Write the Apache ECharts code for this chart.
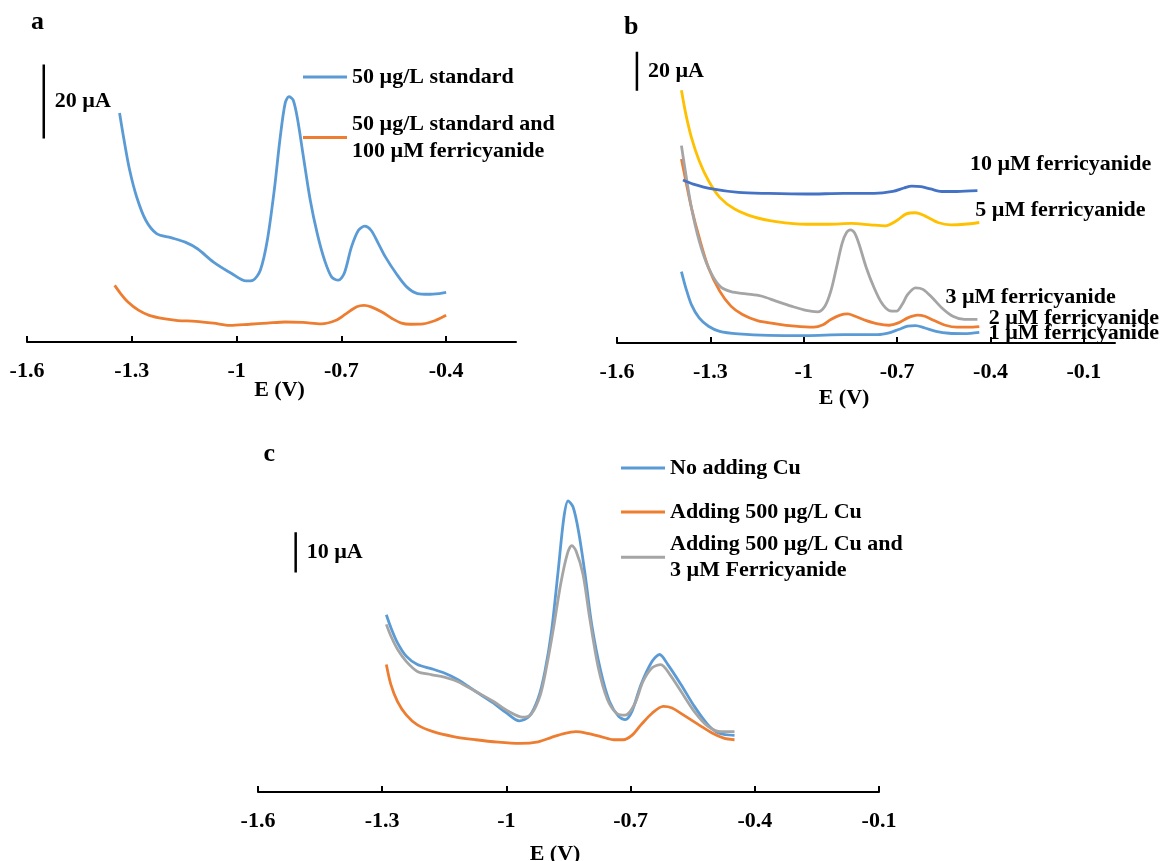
<!DOCTYPE html>
<html><head><meta charset="utf-8">
<script src="https://cdn.jsdelivr.net/npm/echarts@6/dist/echarts.min.js"></script>
<style>html,body{margin:0;padding:0;background:#fff}#c{width:1172px;height:861px}</style>
</head><body><div id="c"></div>
<script>
// ---------- data ----------
const ticksA = [-1.6, -1.3, -1.0, -0.7, -0.4];
const ticksB = [-1.6, -1.3, -1.0, -0.7, -0.4, -0.1];
const ticksC = [-1.6, -1.3, -1.0, -0.7, -0.4, -0.1];

// panel a (E in V, current in µA relative to baseline)
const aStandard = [[-1.335,61.9],[-1.322,54.5],[-1.306,46.4],[-1.286,39.2],[-1.260,32.9],[-1.229,29.3],[-1.188,28.2],[-1.147,27.0],[-1.112,25.2],[-1.066,21.6],[-1.014,18.5],[-0.973,16.5],[-0.953,16.7],[-0.932,19.4],[-0.912,27.5],[-0.891,41.9],[-0.876,54.6],[-0.861,64.5],[-0.850,66.3],[-0.838,65.4],[-0.825,60.0],[-0.810,50.9],[-0.789,38.3],[-0.769,29.3],[-0.748,22.1],[-0.728,17.6],[-0.709,16.7],[-0.692,18.5],[-0.671,25.7],[-0.651,30.2],[-0.633,31.3],[-0.615,30.2],[-0.594,26.6],[-0.574,23.0],[-0.543,18.5],[-0.513,14.9],[-0.482,13.1],[-0.451,12.9],[-0.420,13.1],[-0.400,13.4]];
const aFerri = [[-1.349,15.3],[-1.332,13.1],[-1.311,10.8],[-1.281,8.6],[-1.250,7.2],[-1.209,6.3],[-1.168,5.8],[-1.117,5.6],[-1.066,5.1],[-1.019,4.5],[-0.963,4.8],[-0.912,5.1],[-0.861,5.4],[-0.810,5.3],[-0.758,4.9],[-0.717,5.8],[-0.687,7.6],[-0.656,9.5],[-0.635,9.9],[-0.615,9.5],[-0.584,8.1],[-0.554,6.3],[-0.528,5.1],[-0.502,4.8],[-0.466,4.9],[-0.431,5.8],[-0.400,7.2]];

// panel b
const b10 = [[-1.388,83.6],[-1.355,81.5],[-1.294,79.0],[-1.210,77.2],[-1.113,76.7],[-0.992,76.4],[-0.871,76.7],[-0.774,76.7],[-0.714,77.7],[-0.678,79.5],[-0.653,80.5],[-0.623,80.2],[-0.593,79.0],[-0.557,77.7],[-0.508,77.7],[-0.442,78.1]];
const b5 = [[-1.393,129.6],[-1.379,117.5],[-1.361,105.5],[-1.336,93.5],[-1.306,83.2],[-1.270,74.7],[-1.222,68.7],[-1.161,64.7],[-1.089,62.3],[-0.992,60.9],[-0.919,60.9],[-0.847,61.3],[-0.786,60.6],[-0.738,60.1],[-0.702,62.7],[-0.672,66.1],[-0.641,66.8],[-0.611,65.2],[-0.569,61.8],[-0.527,60.6],[-0.484,60.9],[-0.436,61.8]];
const b3 = [[-1.393,101.2],[-1.379,86.7],[-1.361,69.5],[-1.336,52.4],[-1.306,38.6],[-1.270,29.2],[-1.234,26.3],[-1.185,25.2],[-1.137,24.1],[-1.089,21.5],[-1.040,18.9],[-0.992,16.7],[-0.956,16.0],[-0.932,18.9],[-0.913,26.6],[-0.895,38.6],[-0.877,51.0],[-0.863,56.5],[-0.850,58.0],[-0.837,56.5],[-0.823,51.0],[-0.799,38.6],[-0.774,28.3],[-0.750,20.6],[-0.726,16.7],[-0.702,16.3],[-0.684,19.7],[-0.666,24.9],[-0.641,28.3],[-0.617,27.5],[-0.587,23.2],[-0.557,18.1],[-0.521,13.7],[-0.484,12.1],[-0.442,12.1]];
const b2 = [[-1.393,94.4],[-1.379,83.2],[-1.361,69.5],[-1.336,54.1],[-1.306,38.6],[-1.270,26.6],[-1.234,18.9],[-1.197,14.6],[-1.149,11.5],[-1.089,9.8],[-1.028,8.6],[-0.968,8.1],[-0.938,9.4],[-0.913,12.1],[-0.883,14.3],[-0.859,14.9],[-0.835,13.7],[-0.799,11.5],[-0.762,9.8],[-0.726,9.1],[-0.696,10.3],[-0.666,12.9],[-0.635,14.3],[-0.611,13.7],[-0.581,11.5],[-0.545,9.1],[-0.508,8.1],[-0.472,8.1],[-0.436,8.4]];
const b1 = [[-1.393,36.6],[-1.379,28.3],[-1.361,19.7],[-1.336,12.9],[-1.306,8.6],[-1.270,6.0],[-1.210,4.7],[-1.113,3.9],[-0.992,3.8],[-0.871,4.3],[-0.762,4.3],[-0.726,5.2],[-0.696,6.9],[-0.666,8.6],[-0.641,8.9],[-0.611,7.7],[-0.575,6.0],[-0.533,5.0],[-0.484,4.8],[-0.436,5.5]];

// panel c
const cNoCu = [[-1.290,44.1],[-1.279,40.9],[-1.263,37.1],[-1.242,33.8],[-1.215,31.7],[-1.182,30.7],[-1.150,29.6],[-1.118,28.0],[-1.074,25.0],[-1.031,22.1],[-0.999,19.6],[-0.969,17.7],[-0.945,18.8],[-0.923,23.4],[-0.907,30.0],[-0.891,40.0],[-0.875,55.0],[-0.861,68.4],[-0.851,72.4],[-0.839,70.9],[-0.826,65.0],[-0.810,54.2],[-0.794,41.7],[-0.772,30.0],[-0.751,22.5],[-0.729,18.8],[-0.713,18.0],[-0.697,20.0],[-0.675,26.7],[-0.648,32.5],[-0.630,34.2],[-0.610,31.7],[-0.578,26.7],[-0.546,21.3],[-0.513,16.7],[-0.486,14.6],[-0.449,14.1]];
const cCu = [[-1.290,31.7],[-1.279,26.7],[-1.263,22.5],[-1.242,19.2],[-1.215,16.7],[-1.177,15.0],[-1.128,13.8],[-1.074,13.0],[-1.020,12.4],[-0.967,12.1],[-0.923,12.5],[-0.891,13.6],[-0.859,14.6],[-0.832,15.0],[-0.805,14.6],[-0.772,13.8],[-0.740,13.0],[-0.718,13.0],[-0.697,14.1],[-0.675,16.7],[-0.648,19.6],[-0.621,21.3],[-0.600,20.9],[-0.567,18.8],[-0.535,16.7],[-0.502,14.6],[-0.475,13.4],[-0.449,13.0]];
const cCuFe = [[-1.290,41.7],[-1.279,38.8],[-1.263,35.5],[-1.242,32.5],[-1.215,30.0],[-1.182,29.2],[-1.150,28.6],[-1.118,27.5],[-1.074,25.0],[-1.031,22.5],[-0.994,20.0],[-0.961,18.6],[-0.940,19.4],[-0.918,24.2],[-0.902,31.7],[-0.886,40.9],[-0.869,51.7],[-0.853,59.2],[-0.842,61.3],[-0.832,60.0],[-0.815,54.2],[-0.799,43.4],[-0.778,30.9],[-0.756,23.0],[-0.734,19.6],[-0.713,19.1],[-0.691,21.7],[-0.670,27.5],[-0.648,30.9],[-0.627,31.7],[-0.605,29.2],[-0.578,25.0],[-0.546,20.0],[-0.513,16.3],[-0.481,15.0],[-0.449,15.0]];

// scale bars: [E, start current, length in µA]
const scaleA = [-1.552, 55.0, 20];
const scaleB = [-1.536, 129.3, 20];
const scaleC = [-1.509, 54.6, 10];

// names
const nA1 = '50 µg/L standard';
const nA2 = '50 µg/L standard and\n100 µM ferricyanide';
const namesB = ['10 µM ferricyanide', '5 µM ferricyanide', '3 µM ferricyanide', '2 µM ferricyanide', '1 µM ferricyanide'];
const nC1 = 'No adding Cu';
const nC2 = 'Adding 500 µg/L Cu';
const nC3 = 'Adding 500 µg/L Cu and\n3 µM Ferricyanide';

// ---------- styling ----------
const FONT = 'Liberation Serif';
const BLUE = '#5B9BD5', ORANGE = '#ED7D31', GRAY = '#A5A5A5', YELLOW = '#FFC000', DBLUE = '#4472C4';
const txt = {fontFamily: FONT, fontWeight: 'bold', fontSize: 22, color: '#000'};

function xAxis(gi, min, max, ticks, gap, pad) {
  return {
    type: 'value', gridIndex: gi, min: min, max: max, interval: 0.3,
    axisLine: {show: true, onZero: true, lineStyle: {color: '#000', width: 2}},
    axisTick: {show: true, inside: true, length: 6, lineStyle: {color: '#000', width: 2}, customValues: ticks},
    axisLabel: Object.assign({show: true, customValues: ticks, margin: 18,
      formatter: v => String(Math.round(v * 10) / 10)}, txt),
    splitLine: {show: false},
    name: 'E (V)', nameLocation: 'middle', nameGap: gap, nameMoveOverlap: false,
    nameTextStyle: Object.assign({padding: pad}, txt)
  };
}
function yAxis(gi, max) {
  return {type: 'value', gridIndex: gi, min: 0, max: max, show: false,
    axisLine: {show: false}, splitLine: {show: false}};
}
function curve(name, data, color, gi) {
  return {type: 'line', name: name, data: data, xAxisIndex: gi, yAxisIndex: gi,
    smooth: 0.3, symbol: 'none', showSymbol: false, silent: true,
    lineStyle: {color: color, width: 2.8}, itemStyle: {color: color}};
}
function scaleBar(s, gi, label) {
  return [{
    type: 'line', data: [[s[0], s[1]], [s[0], s[1] + s[2]]], xAxisIndex: gi, yAxisIndex: gi,
    symbol: 'none', silent: true, lineStyle: {color: '#000', width: 2.5}
  }, {
    type: 'scatter', data: [[s[0], s[1] + s[2] / 2]], xAxisIndex: gi, yAxisIndex: gi,
    symbolSize: 0, silent: true, itemStyle: {opacity: 1},
    label: Object.assign({show: true, position: 'right', distance: 11, formatter: label, opacity: 1}, txt)
  }];
}
function legend(name, left, top, lh, twoLine) {
  const d = {name: name, icon: 'rect'};
  if (twoLine) d.textStyle = {padding: [lh, 0, 0, 0]};
  return {show: true, left: left, top: top, padding: 0, orient: 'vertical',
    icon: 'rect', itemWidth: 44, itemHeight: 3, selectedMode: false, data: [d],
    textStyle: Object.assign({lineHeight: lh}, txt)};
}

// panel b end labels (offsets relative to last point of each curve)
const bSeries = [b10, b5, b3, b2, b1];
const bOffsets = [[-7.5, -26.7], [-4, -11.7], [-32, -21.7], [9.4, -8.7], [9.4, 0.6]];
const bLabelData = bSeries.map((s, i) => ({
  value: s[s.length - 1],
  label: {offset: bOffsets[i], formatter: namesB[i]}
}));

const series = [
  curve(nA1, aStandard, BLUE, 0),
  curve(nA2, aFerri, ORANGE, 0),
  ...scaleBar(scaleA, 0, '20 µA'),
  curve(namesB[4], b1, BLUE, 1),
  curve(namesB[3], b2, ORANGE, 1),
  curve(namesB[2], b3, GRAY, 1),
  curve(namesB[1], b5, YELLOW, 1),
  curve(namesB[0], b10, DBLUE, 1),
  ...scaleBar(scaleB, 1, '20 µA'),
  {type: 'scatter', data: bLabelData, xAxisIndex: 1, yAxisIndex: 1, symbolSize: 0, silent: true,
   itemStyle: {opacity: 1},
   label: Object.assign({show: true, position: 'right', distance: 0, opacity: 1}, txt)},
  curve(nC1, cNoCu, BLUE, 2),
  curve(nC2, cCu, ORANGE, 2),
  curve(nC3, cCuFe, GRAY, 2),
  ...scaleBar(scaleC, 2, '10 µA')
];

const option = {
  animation: false,
  backgroundColor: '#fff',
  title: [
    {text: 'a', left: 31, top: 9, padding: 0, textStyle: {fontFamily: FONT, fontWeight: 'bold', fontSize: 26, color: '#000'}},
    {text: 'b', left: 624, top: 14.5, padding: 0, textStyle: {fontFamily: FONT, fontWeight: 'bold', fontSize: 26, color: '#000'}},
    {text: 'c', left: 263.5, top: 441.5, padding: 0, textStyle: {fontFamily: FONT, fontWeight: 'bold', fontSize: 26, color: '#000'}}
  ],
  legend: [
    legend(nA1, 303, 63.5, 27, false),
    legend(nA2, 303, 97, 27, true),
    legend(nC1, 621, 455, 26, false),
    legend(nC2, 621, 499, 26, false),
    legend(nC3, 621, 518.3, 26, true)
  ],
  grid: [
    {left: 27, top: 46, width: 489, height: 296, outerBoundsMode: 'none', containLabel: false},
    {left: 617, top: 31, width: 498, height: 312, outerBoundsMode: 'none', containLabel: false},
    {left: 258, top: 470.4, width: 621, height: 321.6, outerBoundsMode: 'none', containLabel: false}
  ],
  xAxis: [
    xAxis(0, -1.6, -0.2, ticksA, 37, [0, 0, 0, 16]),
    xAxis(1, -1.6, 0, ticksB, 44, [0, 44, 0, 0]),
    xAxis(2, -1.6, -0.1, ticksC, 51, [0, 27, 0, 0])
  ],
  yAxis: [yAxis(0, 80), yAxis(1, 160), yAxis(2, 80)],
  series: series
};

const chart = echarts.init(document.getElementById('c'), null, {renderer: 'canvas'});
chart.setOption(option);
</script></body></html>
